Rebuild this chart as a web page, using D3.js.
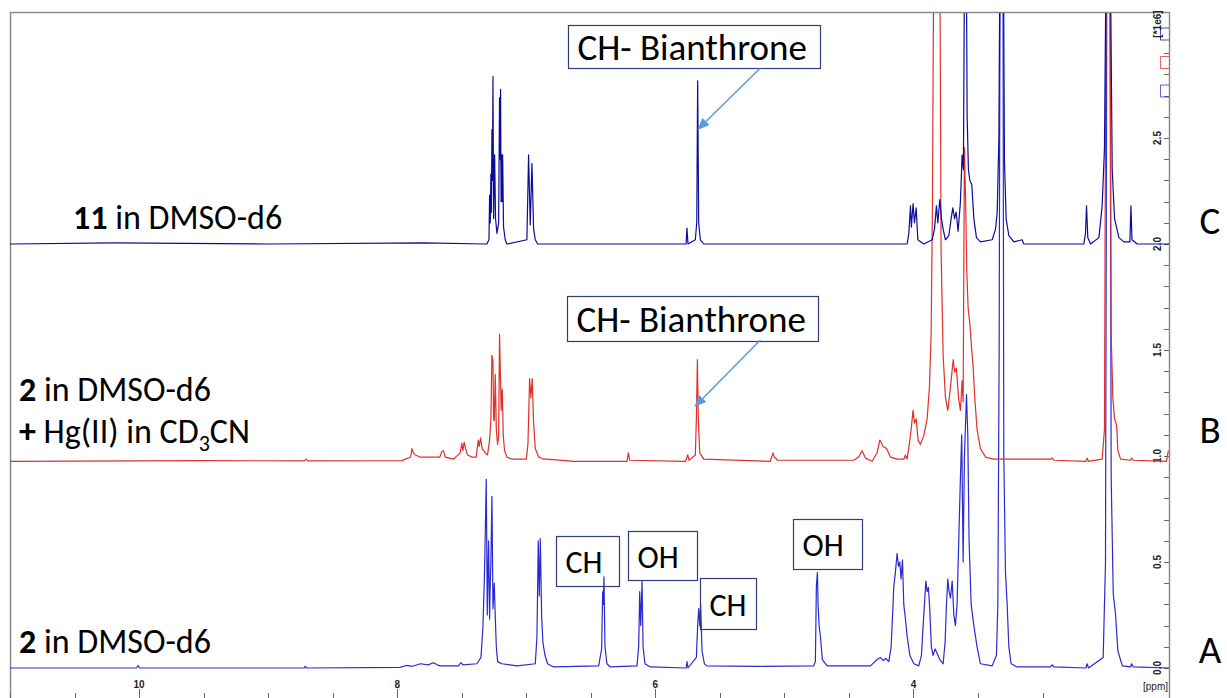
<!DOCTYPE html>
<html>
<head>
<meta charset="utf-8">
<script src="https://cdn.jsdelivr.net/npm/d3@7"></script>
<style>
  body { margin: 0; background: #fff; }
  svg { display: block; }
  .big { font-family: Carlito, Lato, sans-serif; font-size: 34px; fill: #000; }
  .tick { font-family: "Liberation Sans", Arial, sans-serif; font-size: 10px; fill: #222; }
</style>
</head>
<body>
<div id="chart"></div>
<script>
// spectra as [ppm, intensity (x1e6)], relative to each baseline
var specA = [[11.0,0],[10.02,0],[10.008,0.012],[9.995,0],[8.72,0],[8.713,0.008],[8.70,0],[7.98,0.003],[7.93,0.012],[7.88,0.008],[7.82,0.02],[7.76,0.015],[7.72,0.025],[7.69,0.015],[7.667,0.01],[7.525,0.01],[7.506,0.025],[7.491,0.015],[7.382,0.02],[7.351,0.05],[7.336,0.19],[7.325,0.41],[7.318,0.62],[7.310,0.89],[7.302,0.25],[7.297,0.45],[7.292,0.6],[7.284,0.23],[7.279,0.4],[7.274,0.5],[7.266,0.81],[7.258,0.28],[7.248,0.4],[7.240,0.24],[7.232,0.1],[7.222,0.03],[7.189,0.02],[7.072,0.01],[6.930,0.02],[6.917,0.15],[6.907,0.6],[6.899,0.34],[6.891,0.61],[6.881,0.25],[6.871,0.12],[6.855,0.06],[6.835,0.02],[6.788,0.005],[6.439,0.01],[6.416,0.09],[6.408,0.36],[6.403,0.3],[6.398,0.43],[6.390,0.1],[6.375,0.02],[6.349,0.005],[6.142,0.01],[6.129,0.1],[6.121,0.36],[6.113,0.2],[6.103,0.41],[6.095,0.1],[6.080,0.02],[6.039,0.005],[5.762,0],[5.754,0.03],[5.747,0],[5.682,0.05],[5.672,0.2],[5.664,0.28],[5.656,0.2],[5.649,0.3],[5.638,0.08],[5.620,0.02],[5.600,0.01],[5.199,0.008],[4.773,0.01],[4.760,0.03],[4.752,0.39],[4.744,0.45],[4.739,0.3],[4.731,0.2],[4.721,0.15],[4.706,0.04],[4.669,0.01],[4.333,0.01],[4.282,0.04],[4.256,0.05],[4.235,0.035],[4.215,0.045],[4.191,0.03],[4.173,0.1],[4.158,0.3],[4.153,0.38],[4.140,0.45],[4.127,0.54],[4.116,0.48],[4.106,0.5],[4.096,0.42],[4.085,0.51],[4.075,0.3],[4.062,0.23],[4.049,0.15],[4.028,0.06],[3.997,0.02],[3.959,0.01],[3.938,0.06],[3.925,0.2],[3.915,0.3],[3.904,0.41],[3.894,0.36],[3.884,0.38],[3.874,0.28],[3.861,0.1],[3.848,0.06],[3.832,0.09],[3.817,0.07],[3.796,0.04],[3.770,0.02],[3.755,0.12],[3.744,0.3],[3.734,0.42],[3.724,0.36],[3.713,0.33],[3.700,0.41],[3.687,0.25],[3.675,0.2],[3.662,0.3],[3.649,0.6],[3.636,0.9],[3.626,1.1],[3.615,0.5],[3.605,1.0],[3.589,1.29],[3.579,1.1],[3.569,0.6],[3.553,0.3],[3.532,0.2],[3.507,0.1],[3.481,0.02],[3.390,0.01],[3.357,0.06],[3.346,0.3],[3.336,1.5],[3.328,3.5],[3.307,3.5],[3.300,1.0],[3.287,0.45],[3.274,0.3],[3.261,0.1],[3.243,0.02],[3.196,0.005],[2.938,0.005],[2.925,0.015],[2.912,0.005],[2.664,0],[2.654,0.02],[2.644,0],[2.530,0.05],[2.512,0.5],[2.501,3.5],[2.478,3.5],[2.468,0.9],[2.452,0.35],[2.434,0.25],[2.416,0.08],[2.382,0.01],[2.318,0.005],[2.310,0.02],[2.297,0.005],[2.02,0]];

var specB = [[11.0,0],[9.5,0.003],[8.72,0.002],[8.705,0.01],[8.69,0.002],[7.964,0.003],[7.895,0.02],[7.886,0.06],[7.875,0.04],[7.86,0.03],[7.822,0.02],[7.72,0.02],[7.67,0.02],[7.654,0.045],[7.641,0.05],[7.628,0.02],[7.563,0.01],[7.512,0.04],[7.499,0.085],[7.491,0.05],[7.481,0.09],[7.470,0.06],[7.455,0.03],[7.421,0.02],[7.388,0.02],[7.372,0.1],[7.364,0.07],[7.354,0.11],[7.341,0.06],[7.318,0.04],[7.300,0.03],[7.284,0.1],[7.274,0.2],[7.266,0.5],[7.258,0.47],[7.253,0.2],[7.248,0.19],[7.240,0.41],[7.232,0.15],[7.222,0.08],[7.214,0.12],[7.207,0.6],[7.200,0.4],[7.194,0.24],[7.186,0.34],[7.178,0.12],[7.168,0.05],[7.150,0.02],[7.111,0.01],[7.000,0.01],[6.987,0.08],[6.974,0.39],[6.964,0.3],[6.954,0.39],[6.943,0.18],[6.930,0.06],[6.904,0.02],[6.865,0.01],[6.840,0.01],[6.633,0],[6.220,0],[6.209,0.04],[6.199,0.005],[5.765,0],[5.749,0.03],[5.739,0.005],[5.690,0.03],[5.682,0.2],[5.674,0.48],[5.667,0.2],[5.656,0.04],[5.625,0.01],[5.109,0],[5.088,0.04],[5.078,0.02],[5.052,0.005],[4.463,0.005],[4.424,0.02],[4.398,0.05],[4.372,0.015],[4.320,0],[4.282,0.04],[4.261,0.1],[4.251,0.09],[4.235,0.07],[4.209,0.06],[4.178,0.02],[4.127,0.01],[4.075,0.01],[4.062,0.03],[4.049,0.01],[4.028,0.1],[4.016,0.16],[4.003,0.24],[3.992,0.18],[3.979,0.2],[3.964,0.1],[3.946,0.08],[3.920,0.12],[3.894,0.2],[3.876,0.35],[3.863,0.6],[3.853,1.2],[3.842,2.5],[3.796,2.5],[3.786,1.0],[3.770,0.5],[3.752,0.3],[3.734,0.24],[3.713,0.35],[3.692,0.48],[3.680,0.42],[3.667,0.44],[3.651,0.3],[3.636,0.24],[3.623,0.38],[3.615,0.28],[3.605,1.48],[3.595,1.2],[3.587,0.9],[3.576,0.72],[3.563,0.65],[3.548,0.52],[3.538,0.45],[3.525,0.3],[3.507,0.15],[3.481,0.06],[3.442,0.02],[3.377,0.01],[2.938,0.01],[2.925,0.015],[2.912,0.005],[2.664,0],[2.654,0.015],[2.644,0],[2.538,0.01],[2.520,0.15],[2.507,2.5],[2.478,2.5],[2.468,0.6],[2.455,0.3],[2.442,0.2],[2.426,0.17],[2.416,0.05],[2.395,0.01],[2.318,0.005],[2.310,0.015],[2.297,0.005],[2.04,0],[2.025,0.05]];

var specC = [[11.0,0],[10.2,0.005],[9.0,0],[7.8,0.005],[7.305,0],[7.289,0.02],[7.284,0.23],[7.279,0.1],[7.274,0.33],[7.270,0.15],[7.266,0.54],[7.262,0.3],[7.258,0.79],[7.253,0.12],[7.245,0.42],[7.238,0.12],[7.227,0.05],[7.214,0.1],[7.207,0.69],[7.203,0.4],[7.199,0.73],[7.195,0.2],[7.191,0.42],[7.187,0.2],[7.183,0.42],[7.176,0.08],[7.163,0.02],[7.150,0],[6.995,0.02],[6.982,0.42],[6.969,0.09],[6.956,0.38],[6.943,0.07],[6.930,0.02],[6.912,0],[5.762,0],[5.755,0.075],[5.747,0],[5.690,0.02],[5.679,0.1],[5.672,0.77],[5.664,0.1],[5.651,0.02],[5.625,0],[4.049,0],[4.036,0.05],[4.023,0.18],[4.016,0.08],[4.003,0.19],[3.992,0.1],[3.979,0.17],[3.966,0.02],[3.920,0],[3.855,0.02],[3.837,0.07],[3.822,0.18],[3.811,0.1],[3.796,0.21],[3.783,0.12],[3.770,0.07],[3.752,0.02],[3.726,0.04],[3.708,0.12],[3.695,0.17],[3.682,0.12],[3.669,0.15],[3.654,0.06],[3.636,0.2],[3.623,0.42],[3.613,0.35],[3.602,1.6],[3.592,1.6],[3.584,0.6],[3.574,0.35],[3.563,0.3],[3.548,0.28],[3.532,0.12],[3.512,0.03],[3.481,0.01],[3.390,0.02],[3.364,0.07],[3.351,0.15],[3.338,0.5],[3.328,1.6],[3.305,1.6],[3.295,0.4],[3.282,0.12],[3.261,0.04],[3.222,0.01],[3.158,0.02],[3.145,0],[2.680,0],[2.667,0.05],[2.659,0.18],[2.649,0.03],[2.628,0],[2.563,0.03],[2.538,0.18],[2.520,0.45],[2.504,1.6],[2.478,1.6],[2.460,0.35],[2.442,0.12],[2.408,0.03],[2.369,0.01],[2.323,0.01],[2.315,0.18],[2.307,0.02],[2.266,0],[2.02,0]];

var spectra = [specA, specB, specC];
var baselines = [0, 0.975, 2.0];
var colors = ["#2a2ad4", "#e0302a", "#0c0c9c"];
var traceLetters = ["A", "B", "C"];

var xTickLabels = [10, 8, 6, 4];
var yTickLabels = ["0.0", "0.5", "1.0", "1.5", "2.0", "2.5"];

var annotations = ["CH- Bianthrone", "CH- Bianthrone", "CH", "OH", "CH", "OH"];

var width = 1227, height = 698;
var svg, x, y;

window.addEventListener('DOMContentLoaded', function () {
    svg = d3.select('#chart').append('svg')
        .attr('width', width)
        .attr('height', height);

    x = d3.scaleLinear().domain([11.0, 2.02]).range([10, 1169]);
    y = d3.scaleLinear().domain([0, 3]).range([668, 32]);

    drawFrame();
    drawSpectra();
    drawLabels();
    drawAnnotations();
});

function drawFrame() {
    svg.append("clipPath").attr("id", "plotClip")
        .append("rect")
        .attr("x", 10).attr("y", 13)
        .attr("width", 1159).attr("height", 700);

    svg.append("path")
        .attr("d", "M10.5,700V12.5H1169.5V700")
        .attr("fill", "none")
        .attr("stroke", "#8a8a8a")
        .attr("stroke-width", 1.5);

    // bottom ppm ticks (every 0.5, labelled every 2)
    var xt = d3.range(3, 11.01, 0.5);
    svg.append("g").selectAll("line")
        .data(xt)
        .enter().append("line")
        .attr("x1", d => Math.round(x(d)) + 0.5)
        .attr("x2", d => Math.round(x(d)) + 0.5)
        .attr("y1", d => xTickLabels.indexOf(d) >= 0 ? 689 : 693)
        .attr("y2", 700)
        .attr("stroke", "#666");

    svg.append("g").selectAll("text")
        .data(xTickLabels)
        .enter().append("text")
        .attr("class", "tick")
        .attr("x", d => x(d))
        .attr("y", 688)
        .attr("text-anchor", "middle")
        .style("font-weight", 700)
        .text(d => d);

    svg.append("text")
        .attr("class", "tick")
        .attr("x", 1168)
        .attr("y", 690)
        .attr("text-anchor", "end")
        .text("[ppm]");

    // right intensity axis
    var yt = d3.range(0, 30).map(d => d / 10);
    svg.append("g").selectAll("line")
        .data(yt)
        .enter().append("line")
        .attr("x1", 1164)
        .attr("x2", 1169)
        .attr("y1", d => Math.round(y(d)) + 0.5)
        .attr("y2", d => Math.round(y(d)) + 0.5)
        .attr("stroke", "#666");

    svg.append("g").selectAll("text")
        .data(yTickLabels)
        .enter().append("text")
        .attr("class", "tick")
        .attr("transform", d => "translate(1161," + y(+d) + ")rotate(-90)")
        .attr("text-anchor", "middle")
        .style("font-weight", 700)
        .text(d => d);

    svg.append("text")
        .attr("class", "tick")
        .attr("transform", "translate(1161,24)rotate(-90)")
        .attr("text-anchor", "middle")
        .style("font-weight", 700)
        .text("[*1e6]");

    // little colour markers of the three traces
    var marks = [colors[2], colors[1], colors[0]];
    svg.append("g").selectAll("path")
        .data(marks)
        .enter().append("path")
        .attr("d", (d, i) => { var t = 28 + i * 28.5; return "M1169," + t + "H1160.5V" + (t + 12) + "H1169"; })
        .attr("fill", "none")
        .attr("stroke", d => d)
        .attr("stroke-opacity", 0.75);
}

function drawSpectra() {
    var g = svg.append("g").attr("clip-path", "url(#plotClip)");
    spectra.forEach(function (spec, i) {
        var line = d3.line()
            .x(d => x(d[0]))
            .y(d => y(d[1] + baselines[i]));
        g.append("path")
            .datum(spec)
            .attr("d", line)
            .attr("fill", "none")
            .attr("stroke", colors[i])
            .attr("stroke-width", 1.2)
            .attr("stroke-linejoin", "round");
    });
}

function drawLabels() {
    var t;
    t = svg.append("text").attr("class", "big").attr("x", 73).attr("y", 229);
    t.append("tspan").style("font-weight", 700).text("11");
    t.append("tspan").text(" in DMSO-d6");

    t = svg.append("text").attr("class", "big").attr("x", 19).attr("y", 401);
    t.append("tspan").style("font-weight", 700).text("2");
    t.append("tspan").text(" in DMSO-d6");

    t = svg.append("text").attr("class", "big").attr("x", 19).attr("y", 443);
    t.append("tspan").style("font-weight", 700).text("+");
    t.append("tspan").text(" Hg(II) in CD");
    t.append("tspan").attr("dy", 8).style("font-size", "22px").text("3");
    t.append("tspan").attr("dy", -8).text("CN");

    t = svg.append("text").attr("class", "big").attr("x", 19).attr("y", 653);
    t.append("tspan").style("font-weight", 700).text("2");
    t.append("tspan").text(" in DMSO-d6");

    var letterY = [663, 443, 234];
    svg.append("g").selectAll("text")
        .data(traceLetters)
        .enter().append("text")
        .attr("class", "big")
        .attr("x", 1210)
        .attr("y", (d, i) => letterY[i])
        .attr("text-anchor", "middle")
        .style("font-size", "39px")
        .text(d => d);
}

function drawAnnotations() {
    // box: left ppm, top value, width, height (px), font size
    var boxes = [
        [6.674, 3.033, 252, 43, 37],
        [6.682, 1.755, 251, 45, 37],
        [6.767, 0.623, 63, 50, 32],
        [6.209, 0.646, 69, 49, 32],
        [5.651, 0.425, 56, 51, 32],
        [4.930, 0.703, 69, 50, 32]
    ];
    var g = svg.append("g");
    boxes.forEach(function (b, i) {
        var bx = Math.round(x(b[0])) + 0.5, by = Math.round(y(b[1])) + 0.5;
        g.append("rect")
            .attr("x", bx).attr("y", by)
            .attr("width", b[2]).attr("height", b[3])
            .attr("fill", i < 2 ? "#fff" : "none")
            .attr("stroke", "#2f3d7c")
            .attr("stroke-width", 1.2);
        g.append("text")
            .attr("class", "big")
            .attr("x", bx + 9)
            .attr("y", by + b[3] * 0.5 + b[4] * 0.36)
            .style("font-size", b[4] + "px")
            .text(annotations[i]);
    });

    // arrows pointing at the bianthrone CH peak
    var arrows = [[5.186, 2.830, 5.674, 2.538], [5.186, 1.547, 5.698, 1.231]];
    arrows.forEach(function (a) {
        var x1 = x(a[0]), y1 = y(a[1]), x2 = x(a[2]), y2 = y(a[3]);
        var ang = Math.atan2(y2 - y1, x2 - x1);
        var len = 12, hw = 5;
        var bx = x2 - len * Math.cos(ang), by = y2 - len * Math.sin(ang);
        g.append("line")
            .attr("x1", x1).attr("y1", y1)
            .attr("x2", bx).attr("y2", by)
            .attr("stroke", "#5b9bd5")
            .attr("stroke-width", 1.5);
        g.append("path")
            .attr("d", "M" + x2 + "," + y2 +
                "L" + (bx + hw * Math.sin(ang)) + "," + (by - hw * Math.cos(ang)) +
                "L" + (bx - hw * Math.sin(ang)) + "," + (by + hw * Math.cos(ang)) + "Z")
            .attr("fill", "#5b9bd5");
    });
}
</script>
</body>
</html>
